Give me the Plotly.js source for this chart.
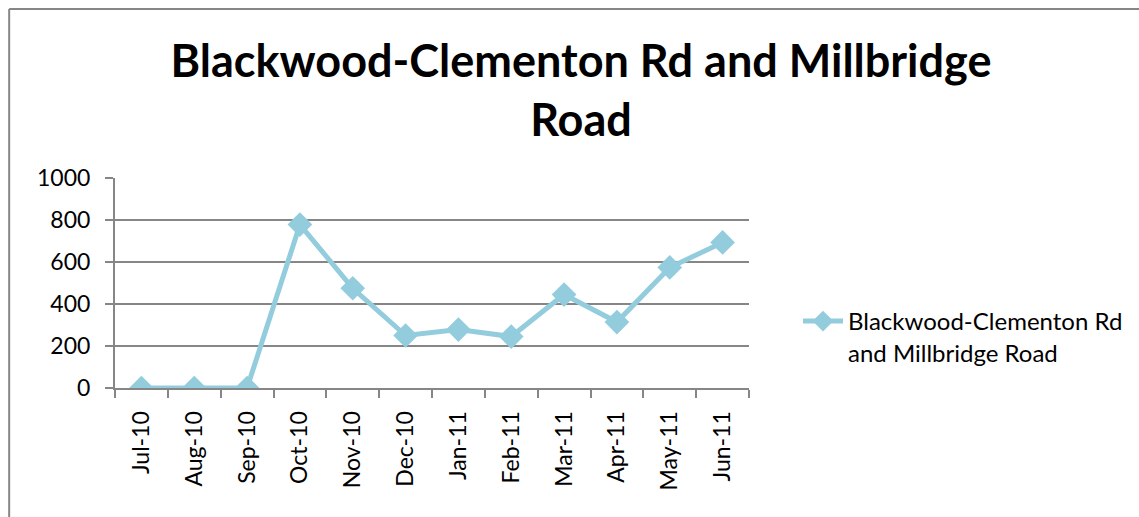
<!DOCTYPE html>
<html>
<head>
<meta charset="utf-8">
<script src="https://cdn.plot.ly/plotly-3.0.1.min.js"></script>
<style>html,body{margin:0;padding:0;background:#fff;overflow:hidden}#chart{width:1139px;height:517px}</style>
</head>
<body>
<div id="chart"></div>
<script>
const months = ["Jul-10","Aug-10","Sep-10","Oct-10","Nov-10","Dec-10","Jan-11","Feb-11","Mar-11","Apr-11","May-11","Jun-11"];
const counts = [0,0,0,778,475,250,278,245,445,314,574,693];
const seriesName = "Blackwood-Clementon Rd<br>and Millbridge Road";
const titleText = "Blackwood-Clementon Rd and Millbridge<br>Road";
const yTicks = [0,200,400,600,800,1000];

const L=115,R=750,T=178,B=388,W=1139,H=517;
const px2x = p => (p-L)/(R-L);
const py2y = p => (B-p)/(B-T);

const trace = {
  x: months, y: counts, name: seriesName, type: 'scatter', mode: 'lines+markers',
  line: {color: '#93CDDD', width: 5},
  marker: {symbol: 'diamond', size: 19, color: '#93CDDD'},
  showlegend: true
};

const layout = {
  width: W, height: H,
  margin: {l: L, r: W-R, t: T, b: H-B, pad: 0},
  paper_bgcolor: '#fff', plot_bgcolor: '#fff',
  title: {text: titleText, font: {family: 'Lato, sans-serif', size: 45, color: '#000', weight: 'bold'},
          x: 581/W, xref: 'container', xanchor: 'center', y: 1-77/H, yref: 'container', yanchor: 'middle'},
  xaxis: {type: 'category', tickson: 'boundaries', ticks: 'outside', ticklen: 8, tickcolor: '#868686', tickwidth: 2,
          showline: true, linecolor: '#868686', linewidth: 2, showgrid: false, tickangle: -90, ticklabelstandoff: 12,
          tickfont: {family: 'Lato, sans-serif', size: 23, color: '#000'}, range: [-0.5, 11.5], automargin: false},
  yaxis: {range: [0, 1000], tickvals: yTicks, ticks: 'outside', ticklen: 8, tickcolor: '#868686', tickwidth: 2,
          showline: true, linecolor: '#868686', linewidth: 2, showgrid: true, gridcolor: '#868686', gridwidth: 2,
          ticklabelstandoff: 10,
          zeroline: false, tickfont: {family: 'Lato, sans-serif', size: 23, color: '#000'}, automargin: false},
  legend: {x: px2x(798), xref: 'paper', y: py2y(299), yanchor: 'top', xanchor: 'left', valign: 'top',
           font: {family: 'Lato, sans-serif', size: 24, color: '#000'}, bgcolor: 'rgba(0,0,0,0)', itemwidth: 40},
  shapes: [
    {type: 'line', xref: 'paper', yref: 'paper', x0: px2x(9), x1: px2x(1145), y0: py2y(9), y1: py2y(9), line: {color: '#868686', width: 2}},
    {type: 'line', xref: 'paper', yref: 'paper', x0: px2x(9), x1: px2x(9), y0: py2y(9), y1: py2y(525), line: {color: '#868686', width: 2}}
  ]
};

Plotly.newPlot('chart', [trace], layout, {displayModeBar: false, staticPlot: true});
</script>
</body>
</html>
